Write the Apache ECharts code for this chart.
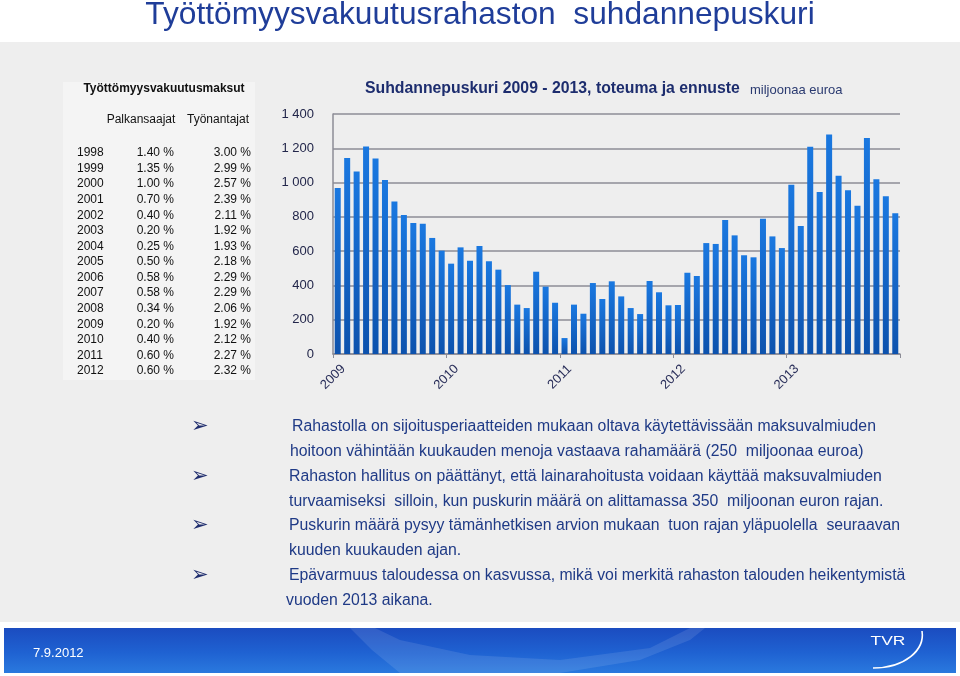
<!DOCTYPE html>
<html>
<head>
<meta charset="utf-8">
<script src="https://cdn.jsdelivr.net/npm/echarts@6/dist/echarts.min.js"></script>
<style>
html,body{margin:0;padding:0;background:#fff;}
#c{width:960px;height:676px;}
</style>
</head>
<body>
<div id="c"></div>
<script>
// ---- data ----
const years = ['2009', '2010', '2011', '2012', '2013'];
const yTicks = [0, 200, 400, 600, 800, 1000, 1200, 1400];
// monthly buffer, million euros, Jan 2009 .. Dec 2013
const puskuri = [
  968, 1143, 1064, 1211, 1141, 1015, 889, 811, 764, 760, 677, 603,
  527, 622, 544, 630, 541, 492, 402, 288, 268, 480, 393, 299,
  93, 288, 235, 414, 321, 424, 336, 268, 233, 426, 360, 284,
  286, 474, 455, 647, 642, 782, 692, 576, 564, 789, 686, 618,
  988, 747, 1209, 945, 1281, 1040, 955, 865, 1260, 1019, 920, 821
];
const tableYears = ['1998','1999','2000','2001','2002','2003','2004','2005','2006','2007','2008','2009','2010','2011','2012'];
const palkansaajat = ['1.40 %','1.35 %','1.00 %','0.70 %','0.40 %','0.20 %','0.25 %','0.50 %','0.58 %','0.58 %','0.34 %','0.20 %','0.40 %','0.60 %','0.60 %'];
const tyonantajat = ['3.00 %','2.99 %','2.57 %','2.39 %','2.11 %','1.92 %','1.93 %','2.18 %','2.29 %','2.29 %','2.06 %','1.92 %','2.12 %','2.27 %','2.32 %'];
const bulletLines = [
  ['Rahastolla on sijoitusperiaatteiden mukaan oltava käytettävissään maksuvalmiuden', 'hoitoon vähintään kuukauden menoja vastaava rahamäärä (250  miljoonaa euroa)'],
  ['Rahaston hallitus on päättänyt, että lainarahoitusta voidaan käyttää maksuvalmiuden', 'turvaamiseksi  silloin, kun puskurin määrä on alittamassa 350  miljoonan euron rajan.'],
  ['Puskurin määrä pysyy tämänhetkisen arvion mukaan  tuon rajan yläpuolella  seuraavan', 'kuuden kuukauden ajan.'],
  ['Epävarmuus taloudessa on kasvussa, mikä voi merkitä rahaston talouden heikentymistä', 'vuoden 2013 aikana.']
];

const FONT = '"Liberation Sans", Arial, sans-serif';
const NAVY = '#1d2d6e';
const TEXTBLUE = '#1f3a86';

const chart = echarts.init(document.getElementById('c'), null, {renderer: 'canvas'});

const g = [];
// backgrounds
g.push({type: 'rect', z: -10, shape: {x: 0, y: 0, width: 960, height: 676}, style: {fill: '#ffffff'}, silent: true});
g.push({type: 'rect', z: -9, shape: {x: 0, y: 42, width: 960, height: 580}, style: {fill: '#eeeeee'}, silent: true});
// table box
g.push({type: 'rect', z: -8, shape: {x: 63, y: 82, width: 192, height: 298}, style: {fill: '#f4f4f4'}, silent: true});
// main title
g.push({type: 'text', style: {text: 'Työttömyysvakuutusrahaston  suhdannepuskuri', x: 480, y: 15, font: '31.7px ' + FONT, fill: '#1f3d99', align: 'center', verticalAlign: 'middle'}});
// chart title
g.push({type: 'text', style: {text: 'Suhdannepuskuri 2009 - 2013, toteuma ja ennuste', x: 365, y: 89, font: 'bold 15.8px ' + FONT, fill: NAVY, align: 'left', verticalAlign: 'middle'}});
g.push({type: 'text', style: {text: 'miljoonaa euroa', x: 750, y: 90, font: '13px ' + FONT, fill: '#2a3a70', align: 'left', verticalAlign: 'middle'}});
// table
g.push({type: 'text', style: {text: 'Työttömyysvakuutusmaksut', x: 164, y: 89, font: 'bold 12px ' + FONT, fill: '#111', align: 'center', verticalAlign: 'middle'}});
g.push({type: 'text', style: {text: 'Palkansaajat', x: 141, y: 120, font: '12px ' + FONT, fill: '#111', align: 'center', verticalAlign: 'middle'}});
g.push({type: 'text', style: {text: 'Työnantajat', x: 218, y: 120, font: '12px ' + FONT, fill: '#111', align: 'center', verticalAlign: 'middle'}});
tableYears.forEach((yr, i) => {
  const y = 153 + i * 15.57;
  g.push({type: 'text', style: {text: yr, x: 77, y: y, font: '12px ' + FONT, fill: '#111', align: 'left', verticalAlign: 'middle'}});
  g.push({type: 'text', style: {text: palkansaajat[i], x: 174, y: y, font: '12px ' + FONT, fill: '#111', align: 'right', verticalAlign: 'middle'}});
  g.push({type: 'text', style: {text: tyonantajat[i], x: 251, y: y, font: '12px ' + FONT, fill: '#111', align: 'right', verticalAlign: 'middle'}});
});
// bullets
const bulletY = [427, 477, 526, 576];
const lineX = [[292, 290], [289, 289], [289, 289], [289, 286]];
bulletLines.forEach((lines, i) => {
  const y0 = bulletY[i];
  g.push({type: 'text', style: {text: '➢', x: 191, y: y0, font: '21px "DejaVu Sans", sans-serif', fill: '#1f2d6e', align: 'left', verticalAlign: 'middle'}});
  lines.forEach((t, j) => {
    g.push({type: 'text', style: {text: t, x: lineX[i][j], y: y0 + j * 24.5, font: '15.8px ' + FONT, fill: TEXTBLUE, align: 'left', verticalAlign: 'middle'}});
  });
});
// footer bar
g.push({type: 'rect', z: -5, shape: {x: 4, y: 628, width: 952, height: 45}, style: {
  fill: new echarts.graphic.LinearGradient(0, 0, 0, 1, [
    {offset: 0, color: '#1b4cc0'}, {offset: 0.55, color: '#1f62d2'}, {offset: 1, color: '#2a79de'}
  ])}, silent: true});
g.push({type: 'polygon', z: -4, shape: {points: [[350, 628], [372, 650], [400, 673], [560, 673], [640, 660], [690, 640], [705, 628], [690, 628], [650, 648], [560, 660], [470, 655], [400, 640], [375, 628]]}, style: {fill: 'rgba(255,255,255,0.10)'}, silent: true});
g.push({type: 'text', style: {text: '7.9.2012', x: 33, y: 653, font: '13px ' + FONT, fill: '#ffffff', align: 'left', verticalAlign: 'middle'}});
g.push({type: 'text', x: 888, y: 642, scaleX: 1.45, style: {text: 'TVR', x: 0, y: 0, font: '12px ' + FONT, fill: '#ffffff', align: 'center', verticalAlign: 'middle'}});
g.push({type: 'bezierCurve', shape: {x1: 922, y1: 631, x2: 873, y2: 668, cpx1: 925, cpy1: 650, cpx2: 905, cpy2: 668}, style: {stroke: '#ffffff', lineWidth: 1.6, fill: null}});

const option = {
  animation: false,
  backgroundColor: 'transparent',
  graphic: g,
  grid: {left: 333, right: 60, top: 114, bottom: 322, containLabel: false},
  xAxis: {
    type: 'value', min: 0, max: years.length * 12, interval: 12,
    axisLine: {show: true, lineStyle: {color: '#8c8c96', width: 1.5}},
    axisTick: {show: true, length: 4, lineStyle: {color: '#8c8c96'}},
    splitLine: {show: false},
    axisLabel: {
      formatter: v => years[v / 12] || '',
      rotate: 45, align: 'center', verticalAlign: 'middle', margin: 23,
      fontSize: 13, fontFamily: FONT, color: '#2a2f5a'
    }
  },
  yAxis: {
    type: 'value', min: yTicks[0], max: yTicks[yTicks.length - 1], interval: 200,
    axisLine: {show: true, lineStyle: {color: '#8c8c96', width: 1.5}},
    axisTick: {show: false},
    splitLine: {show: true, lineStyle: {color: '#8c8c96', width: 1.5}},
    axisLabel: {
      formatter: v => String(v).replace(/\B(?=(\d{3})+(?!\d))/g, ' '),
      margin: 19, fontSize: 13, fontFamily: FONT, color: '#22264a'
    }
  },
  series: [{
    type: 'bar',
    barWidth: 6,
    data: puskuri.map((v, i) => [i + 0.5, v]),
    itemStyle: {
      color: new echarts.graphic.LinearGradient(0, 0, 0, 1, [
        {offset: 0, color: '#1a78e0'}, {offset: 1, color: '#0d52ad'}
      ])
    }
  }]
};
chart.setOption(option);
</script>
</body>
</html>
